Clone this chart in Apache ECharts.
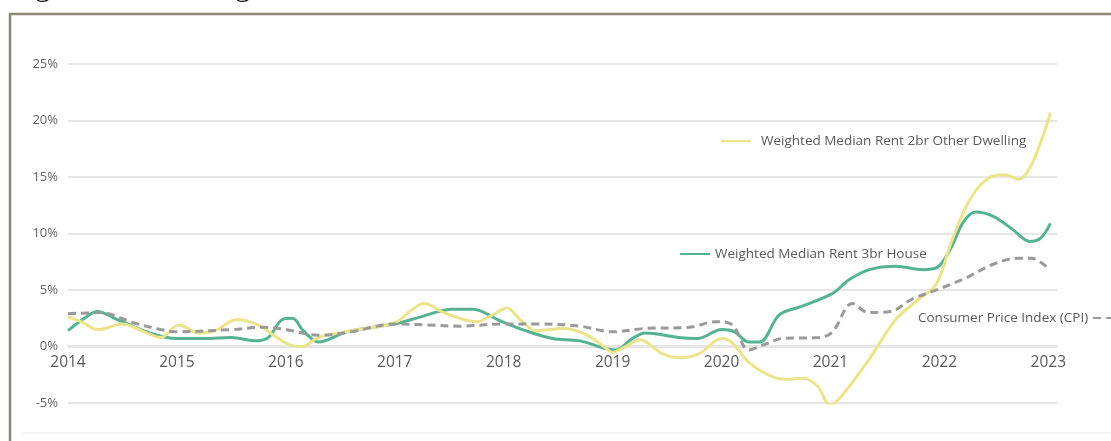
<!DOCTYPE html>
<html>
<head>
<meta charset="utf-8">
<script src="https://cdn.jsdelivr.net/npm/echarts@6/dist/echarts.min.js"></script>
<style>
  html, body { margin: 0; padding: 0; background: #ffffff; }
  #chart { width: 1111px; height: 441px; }
</style>
</head>
<body>
<div id="chart"></div>
<script>
// Annual growth (%), plotted against decimal year
const houseName = 'Weighted Median Rent 3br House';
const houseT = [2014.0, 2014.15, 2014.27, 2014.45, 2014.75, 2015.0, 2015.25, 2015.5, 2015.73, 2015.84, 2015.97, 2016.06,
  2016.16, 2016.3, 2016.56, 2017.0, 2017.23, 2017.53, 2017.72, 2017.96, 2018.2, 2018.45, 2018.7, 2018.94, 2019.03,
  2019.18, 2019.3, 2019.6, 2019.78, 2020.0, 2020.12, 2020.25, 2020.35, 2020.53, 2020.72, 2021.02, 2021.17, 2021.36,
  2021.6, 2021.85, 2021.98, 2022.1, 2022.22, 2022.33, 2022.5, 2022.68, 2022.83, 2022.93, 2023.02];
const houseV = [1.4, 2.5, 3.1, 2.4, 1.2, 0.7, 0.7, 0.8, 0.5, 0.8, 2.4, 2.5,
  1.4, 0.4, 1.3, 2.0, 2.6, 3.3, 3.3, 2.3, 1.4, 0.7, 0.5, -0.2, -0.3,
  0.7, 1.2, 0.8, 0.7, 1.5, 1.3, 0.4, 0.4, 2.8, 3.5, 4.7, 5.9, 6.8,
  7.1, 6.8, 7.0, 8.6, 11.0, 11.9, 11.5, 10.3, 9.3, 9.6, 10.9];

const unitName = 'Weighted Median Rent 2br Other Dwelling';
const unitT = [2014.0, 2014.12, 2014.28, 2014.5, 2014.7, 2014.85, 2015.02, 2015.2, 2015.35, 2015.55, 2015.75, 2015.9,
  2016.05, 2016.15, 2016.3, 2016.6, 2017.0, 2017.15, 2017.27, 2017.45, 2017.75, 2017.9, 2018.03, 2018.15, 2018.3,
  2018.55, 2018.75, 2018.92, 2019.0, 2019.1, 2019.25, 2019.45, 2019.62, 2019.8, 2020.0, 2020.1, 2020.25, 2020.45,
  2020.6, 2020.75, 2020.88, 2021.0, 2021.1, 2021.35, 2021.6, 2021.8, 2021.97, 2022.12, 2022.28, 2022.45, 2022.6,
  2022.73, 2022.83, 2022.95, 2023.02];
const unitV = [2.6, 2.2, 1.5, 2.0, 1.3, 0.8, 1.9, 1.2, 1.4, 2.4, 1.9, 0.9,
  0.1, 0.0, 0.8, 1.4, 2.1, 3.2, 3.8, 3.0, 2.2, 2.8, 3.4, 2.4, 1.4,
  1.6, 1.1, 0.0, -0.5, -0.1, 0.6, -0.6, -1.0, -0.6, 0.7, 0.3, -1.4, -2.6,
  -2.9, -2.8, -3.5, -5.2, -4.4, -1.2, 2.4, 4.1, 5.5, 9.5, 13.0, 14.9, 15.2,
  14.8, 15.8, 18.6, 20.7];

const cpiName = 'Consumer Price Index (CPI)';
const cpiT = [2014.0, 2014.3, 2014.6, 2014.85, 2015.0, 2015.5, 2015.8, 2016.0, 2016.3, 2016.6, 2017.0, 2017.3, 2017.6,
  2018.0, 2018.3, 2018.7, 2019.0, 2019.3, 2019.7, 2019.95, 2020.1, 2020.25, 2020.4, 2020.55, 2020.9, 2021.02,
  2021.2, 2021.35, 2021.55, 2021.75, 2022.0, 2022.25, 2022.5, 2022.72, 2022.85, 2023.0];
const cpiV = [2.9, 3.0, 2.1, 1.5, 1.3, 1.5, 1.7, 1.5, 1.0, 1.3, 2.0, 1.9, 1.8,
  2.0, 2.0, 1.8, 1.3, 1.6, 1.7, 2.2, 1.9, -0.3, 0.2, 0.7, 0.8, 1.3,
  3.8, 3.0, 3.1, 4.2, 5.1, 6.1, 7.3, 7.8, 7.8, 6.9];

const yearTicks = [2014, 2015, 2016, 2017, 2018, 2019, 2020, 2021, 2022, 2023];

const zip = (t, v) => t.map((x, i) => [x, v[i]]);

const textColor = '#5a5a5a';
const font = '"Open Sans", "Noto Sans", sans-serif';

const chart = echarts.init(document.getElementById('chart'), null, { renderer: 'canvas' });

// legend entries sit inline next to their lines; the symbol is hidden so only the stroke shows
const inlineLegend = (name, left, top, extra) => Object.assign({
  data: [name], left: left, top: top, padding: 0, selectedMode: false,
  itemWidth: 30, itemHeight: 10,
  itemStyle: { opacity: 0 },
  textStyle: { color: textColor, fontSize: 13.5, fontFamily: font }
}, extra || {});

chart.setOption({
  backgroundColor: '#ffffff',
  animation: false,
  graphic: [
    {
      type: 'text', left: 8, top: -29, silent: true,
      style: { text: 'Figure 4: Annual growth in rents', font: '32px "Liberation Serif", serif', fill: '#111' }
    },
    {
      type: 'rect', silent: true, z: -1,
      shape: { x: 10, y: 14, width: 1200, height: 500 },
      style: { fill: 'none', stroke: '#8b8a78', lineWidth: 2.5 }
    },
    {
      type: 'line', silent: true, z: -1,
      shape: { x1: 22, y1: 433, x2: 1111, y2: 433 },
      style: { stroke: '#f3f3f3', lineWidth: 1.5 }
    }
  ],
  legend: [
    inlineLegend(unitName, 720, 134, { textStyle: { color: textColor, fontSize: 13.5, fontFamily: font, padding: [0, 0, 0, 5] } }),
    inlineLegend(houseName, 679, 247),
    inlineLegend(cpiName, 918, 311, { align: 'right' })
  ],
  grid: { left: 68, right: 54, top: 64, bottom: 38, containLabel: false },
  xAxis: {
    type: 'value', min: 2014, max: 2023.08, interval: 1,
    offset: -57,
    axisLine: { show: true, onZero: false, lineStyle: { color: '#e6e6e6', width: 2 } },
    axisTick: { show: false },
    splitLine: { show: false },
    axisLabel: {
      color: textColor, fontSize: 15.5, fontFamily: font, margin: 9,
      formatter: v => (yearTicks.includes(v) ? String(v) : '')
    }
  },
  yAxis: {
    type: 'value', min: -5, max: 25, interval: 5,
    axisLine: { show: false },
    axisTick: { show: false },
    splitLine: { lineStyle: { color: '#e6e6e6', width: 2 } },
    axisLabel: { color: '#666', fontSize: 13, fontFamily: font, margin: 10, formatter: '{value}%' }
  },
  series: [
    {
      name: houseName, type: 'line', data: zip(houseT, houseV), smooth: 0.35,
      symbol: 'none', lineStyle: { color: '#55b393', width: 3 }, itemStyle: { color: '#55b393' }
    },
    {
      name: unitName, type: 'line', data: zip(unitT, unitV), smooth: 0.35,
      symbol: 'none', lineStyle: { color: '#ebe48a', width: 3 }, itemStyle: { color: '#ebe48a' }
    },
    {
      name: cpiName, type: 'line', data: zip(cpiT, cpiV), smooth: 0.35,
      symbol: 'none', lineStyle: { color: '#9a9a9a', width: 3, type: [8, 5] }, itemStyle: { color: '#9a9a9a' }
    }
  ]
});
</script>
</body>
</html>
